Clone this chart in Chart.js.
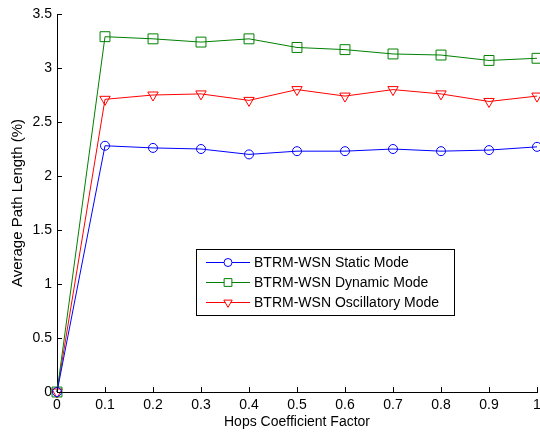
<!DOCTYPE html>
<html>
<head>
<meta charset="utf-8">
<script src="https://cdn.jsdelivr.net/npm/chart.js@4.4.0/dist/chart.umd.min.js"></script>
<style>
  html, body { margin: 0; padding: 0; background: #fff; }
  #wrap { width: 540px; height: 432px; }
</style>
</head>
<body>
<div id="wrap"><canvas id="myChart" width="540" height="432"></canvas></div>
<script>
var hops = [0, 0.1, 0.2, 0.3, 0.4, 0.5, 0.6, 0.7, 0.8, 0.9, 1];
var staticMode = [0, 2.28, 2.26, 2.25, 2.20, 2.23, 2.23, 2.25, 2.23, 2.24, 2.27];
var dynamicMode = [0, 3.29, 3.27, 3.24, 3.27, 3.19, 3.17, 3.13, 3.12, 3.07, 3.09];
var oscillatoryMode = [0, 2.71, 2.75, 2.76, 2.70, 2.80, 2.74, 2.80, 2.76, 2.69, 2.74];
var seriesNames = ['BTRM-WSN Static Mode', 'BTRM-WSN Dynamic Mode', 'BTRM-WSN Oscillatory Mode'];
var xTicks = ['0', '0.1', '0.2', '0.3', '0.4', '0.5', '0.6', '0.7', '0.8', '0.9', '1'];
var yTicks = ['0', '0.5', '1', '1.5', '2', '2.5', '3', '3.5'];

var FONT = 'Liberation Sans, Arial, sans-serif';

function pts(vals) {
  return vals.map(function (v, i) { return { x: hops[i], y: v }; });
}

function makeSet(label, vals, color, style, rot, r) {
  return {
    label: label,
    data: pts(vals),
    borderColor: color,
    backgroundColor: 'rgba(0,0,0,0)',
    borderWidth: 1,
    pointStyle: style,
    pointRotation: rot,
    pointRadius: r,
    pointBorderWidth: 1,
    pointBorderColor: color,
    pointBackgroundColor: 'rgba(0,0,0,0)',
    tension: 0,
    clip: false
  };
}

// ticks drawn inward, like the original plot
var innerTicks = {
  id: 'innerTicks',
  afterDraw: function (chart) {
    var c = chart.ctx;
    var xs = chart.scales.x, ys = chart.scales.y;
    c.save();
    c.strokeStyle = '#000';
    c.lineWidth = 1;
    c.beginPath();
    xs.ticks.forEach(function (t) {
      var px = Math.round(xs.getPixelForValue(t.value)) + 0.5;
      c.moveTo(px, ys.bottom);
      c.lineTo(px, ys.bottom - 5);
    });
    ys.ticks.forEach(function (t) {
      var py = Math.round(ys.getPixelForValue(t.value)) + 0.5;
      c.moveTo(xs.left, py);
      c.lineTo(xs.left + 5, py);
    });
    c.stroke();
    c.restore();
  }
};

// boxed legend inside the plot area
var boxLegend = {
  id: 'boxLegend',
  afterDraw: function (chart) {
    var c = chart.ctx;
    var left = 196, top = 249, w = 258, h = 66;
    var legR = [4, 5.5, 4.8];
    c.save();
    c.fillStyle = '#fff';
    c.fillRect(left, top, w, h);
    c.strokeStyle = '#000';
    c.lineWidth = 1;
    c.strokeRect(left + 0.5, top + 0.5, w, h);
    c.font = '14px ' + FONT;
    c.textBaseline = 'middle';
    chart.data.datasets.forEach(function (ds, i) {
      var y = top + 13.5 + i * 20;
      c.strokeStyle = ds.borderColor;
      c.beginPath();
      c.moveTo(left + 10, y);
      c.lineTo(left + 54, y);
      c.stroke();
      c.fillStyle = '#fff';
      Chart.helpers.drawPoint(c, {
        pointStyle: ds.pointStyle,
        rotation: ds.pointRotation,
        radius: legR[i],
        borderWidth: 1
      }, left + 32, y);
      c.fillStyle = '#000';
      c.fillText(ds.label, left + 58, y + 1);
    });
    c.restore();
  }
};

var ctx = document.getElementById('myChart');
var myChart = new Chart(ctx, {
  type: 'line',
  data: {
    datasets: [
      makeSet(seriesNames[0], staticMode, '#0000ff', 'circle', 0, 4.5),
      makeSet(seriesNames[1], dynamicMode, '#008000', 'rect', 0, 7),
      makeSet(seriesNames[2], oscillatoryMode, '#ff0000', 'triangle', 180, 6)
    ]
  },
  options: {
    responsive: false,
    animation: false,
    layout: { autoPadding: false, padding: { top: 14, right: 3, left: 0, bottom: 0 } },
    plugins: {
      legend: { display: false },
      tooltip: { enabled: false }
    },
    scales: {
      x: {
        type: 'linear',
        min: 0,
        max: 1,
        afterBuildTicks: function (s) {
          s.ticks = hops.map(function (v) { return { value: v }; });
        },
        afterFit: function (s) {
          s.height = 40;
          s.paddingLeft = 0;
          s.paddingRight = 0;
        },
        grid: { display: false, drawTicks: false },
        border: { display: true, color: '#000', width: 1 },
        ticks: {
          color: '#000',
          font: { family: FONT, size: 14 },
          padding: 5,
          maxRotation: 0,
          autoSkip: false,
          callback: function (v, i) { return xTicks[i]; }
        },
        title: {
          display: true,
          text: 'Hops Coefficient Factor',
          color: '#000',
          font: { family: FONT, size: 14 },
          padding: { top: 0, bottom: 1 }
        }
      },
      y: {
        type: 'linear',
        min: 0,
        max: 3.5,
        afterBuildTicks: function (s) {
          s.ticks = yTicks.map(function (t) { return { value: parseFloat(t) }; });
        },
        afterFit: function (s) {
          s.width = 57;
          s.paddingTop = 0;
          s.paddingBottom = 0;
        },
        grid: { display: false, drawTicks: false },
        border: { display: true, color: '#000', width: 1 },
        ticks: {
          color: '#000',
          font: { family: FONT, size: 14 },
          padding: 5,
          autoSkip: false,
          callback: function (v, i) { return yTicks[i]; }
        },
        title: {
          display: true,
          text: 'Average Path Length (%)',
          color: '#000',
          font: { family: FONT, size: 15 },
          padding: { top: 8.5, bottom: 0 }
        }
      }
    }
  },
  plugins: [innerTicks, boxLegend]
});
</script>
</body>
</html>
